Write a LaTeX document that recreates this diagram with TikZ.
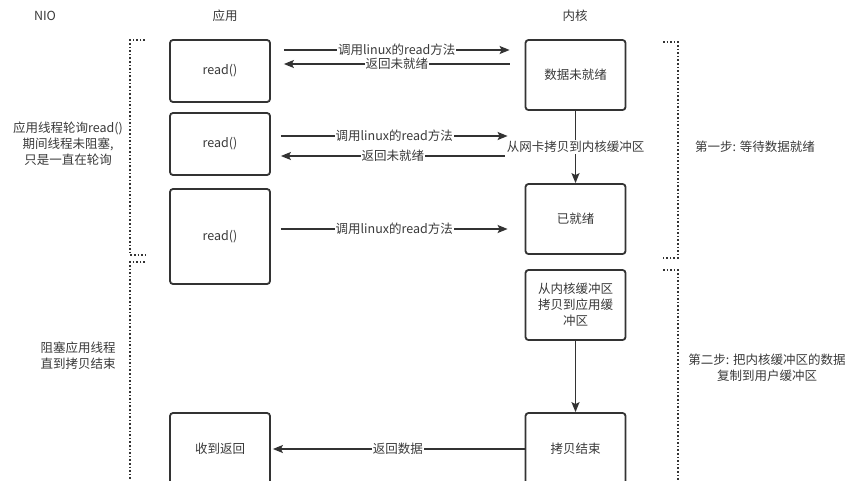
\documentclass[tikz,border=0pt]{standalone}
\usepackage{fontspec}
\setmainfont{Noto Sans CJK SC}
\usetikzlibrary{arrows.meta}
\definecolor{linec}{HTML}{333333}
\definecolor{textc}{HTML}{3a3a3a}
\tikzset{
  box/.style={draw=linec, line width=1.8pt, rounded corners=3pt, minimum width=100pt, text=textc, align=center, inner sep=2pt},
  arr/.style={draw=linec, line width=1.5pt, -{Stealth[length=10pt,width=8pt,inset=2pt]}},
  lbl/.style={fill=white, text=textc, inner sep=1pt, font=\fontsize{12.5pt}{14pt}\selectfont},
  txt/.style={text=textc, align=center, font=\fontsize{12.5pt}{16pt}\selectfont},
  dotline/.style={draw=linec, line width=1.6pt, dash pattern=on 1.6pt off 2pt}
}
\begin{document}
\begin{tikzpicture}[x=1pt,y=-1pt, every node/.append style={font=\fontsize{12.5pt}{16pt}\selectfont}]
\useasboundingbox (0,0) rectangle (867,480);
\clip (0,0) rectangle (867,480);
\fill[white] (0,0) rectangle (867,480);

% headers
\node[txt] (hnio) at (45,16) {NIO};
\node[txt] (happ) at (225,16) {应用};
\node[txt] (hker) at (575,16) {内核};

% app boxes
\node[box, minimum height=62pt] (a1) at (220,71) {read()};
\node[box, minimum height=62pt] (a2) at (220,144) {read()};
\node[box, minimum height=95pt] (a3) at (220,236.5) {read()};
\node[box, minimum height=72pt] (a4) at (220,449) {收到返回};

% kernel boxes
\node[box, minimum height=70pt] (k1) at (575.5,75) {数据未就绪};
\node[box, minimum height=70pt] (k2) at (575.5,219) {已就绪};
\node[box, minimum height=70pt] (k3) at (575.5,305) {从内核缓冲区\\拷贝到应用缓\\冲区};
\node[box, minimum height=72pt] (k4) at (575.5,449) {拷贝结束};

% row 1
\draw[arr] ([xshift=13pt,yshift=21pt]a1.east) -- node[lbl] {调用linux的read方法} ([xshift=-15pt,yshift=25pt]k1.west);
\draw[arr] ([xshift=-15pt,yshift=11pt]k1.west) -- node[lbl] {返回未就绪} ([xshift=13pt,yshift=7pt]a1.east);

% row 2
\draw[arr] ([xshift=10pt,yshift=8pt]a2.east) -- node[lbl] {调用linux的read方法} ([xshift=-17pt,yshift=83pt]k2.west);
\draw[arr] ([xshift=-20pt,yshift=63pt]k2.west) -- node[lbl] {返回未就绪} ([xshift=10pt,yshift=-12pt]a2.east);

% row 3
\draw[arr] ([xshift=10pt,yshift=7.5pt]a3.east) -- node[lbl] {调用linux的read方法} ([xshift=-17pt,yshift=-10pt]k2.west);

% kernel vertical
\draw[arr] (k1.south) -- node[lbl] {从网卡拷贝到内核缓冲区} (k2.north);
\draw[arr] (k3.south) -- (k4.north);

% return data
\draw[arr, shorten >=2pt] (k4.west) -- node[lbl] {返回数据} (a4.east);

% dotted brackets
\draw[dotline] (145,40) -- (130,40) -- (130,255) -- (145,255);
\draw[dotline] (145,262) -- (130,262) -- (130,490);
\draw[dotline] (663,42) -- (678,42) -- (678,258) -- (663,258);
\draw[dotline] (663,270) -- (678,270) -- (678,490);

% side notes
\node[txt] (n1) at (68,144) {应用线程轮询read()\\期间线程未阻塞,\\只是一直在轮询};
\node[txt] (n2) at (78,356) {阻塞应用线程\\直到拷贝结束};
\node[txt] (n3) at (755,147) {第一步: 等待数据就绪};
\node[txt] (n4) at (767,368) {第二步: 把内核缓冲区的数据\\复制到用户缓冲区};
\end{tikzpicture}
\end{document}
